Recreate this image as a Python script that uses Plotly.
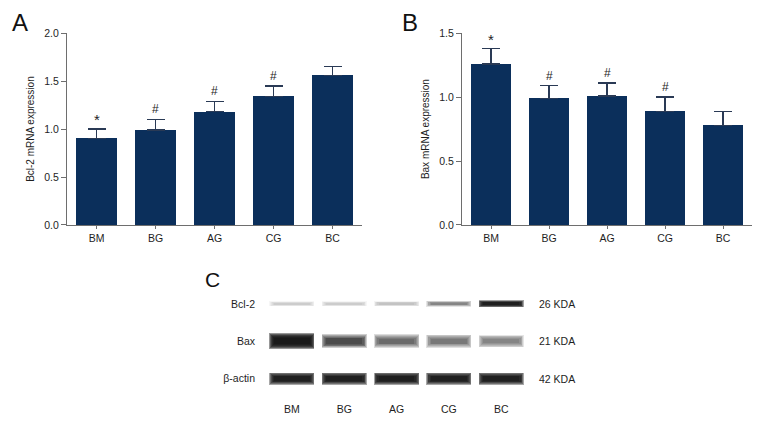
import plotly.graph_objects as go

# ---------------- data ----------------
groups = ["BM", "BG", "AG", "CG", "BC"]
bcl2_mrna = [0.90, 0.99, 1.18, 1.34, 1.56]
bcl2_err = [0.10, 0.11, 0.11, 0.11, 0.09]
bcl2_sig = ["*", "#", "#", "#", ""]

bax_mrna = [1.26, 0.99, 1.01, 0.89, 0.78]
bax_err = [0.12, 0.10, 0.10, 0.11, 0.11]
bax_sig = ["*", "#", "#", "#", ""]

proteins = ["Bcl-2", "Bax", "β-actin"]
kda_labels = ["26 KDA", "21 KDA", "42 KDA"]
# relative band intensities read from the blot (0 = no band, 1 = saturated)
bcl2_band = [0.22, 0.22, 0.26, 0.50, 0.95]
bax_band = [0.97, 0.75, 0.62, 0.58, 0.50]
actin_band = [0.94, 0.94, 0.95, 0.94, 0.94]

# ---------------- style ----------------
W, H = 780, 444
FONT = "Liberation Sans, Arial, sans-serif"
BAR = "#0b2f5b"
AXC = "#6e6e6e"
TXT = "#1e1e1e"


def px(x):
    return x / W


def py(y):
    return 1 - y / H


fig = go.Figure()

# Panel A
fig.add_trace(go.Bar(
    x=groups, y=bcl2_mrna, marker=dict(color=BAR, line=dict(width=0)),
    width=0.68, xaxis="x", yaxis="y",
    error_y=dict(type="data", array=bcl2_err, arrayminus=[0] * 5, symmetric=False,
                 color="#2a3a55", thickness=1.3, width=9),
    showlegend=False, hoverinfo="x+y"))

# Panel B
fig.add_trace(go.Bar(
    x=groups, y=bax_mrna, marker=dict(color=BAR, line=dict(width=0)),
    width=0.70, xaxis="x2", yaxis="y2",
    error_y=dict(type="data", array=bax_err, arrayminus=[0] * 5, symmetric=False,
                 color="#2a3a55", thickness=1.3, width=9),
    showlegend=False, hoverinfo="x+y"))

# Panel C: western blot bands drawn as soft layered bars
rows = [bcl2_band, bax_band, actin_band]
row_thick = [0.10, 0.22, 0.17]
tfs = [1.6, 1.4, 1.2, 1.0, 0.8, 0.6]
wds = [0.86, 0.84, 0.81, 0.78, 0.74, 0.68]
for r, vals in enumerate(rows):
    alphas = [1 - (1 - min(v, 0.97)) ** (1 / len(tfs)) for v in vals]
    for tf, wd in zip(tfs, wds):
        th = [row_thick[r] * tf * (0.7 + 0.5 * v) for v in vals]
        fig.add_trace(go.Bar(
            x=groups, y=th, base=[r - t / 2 for t in th], width=wd,
            marker=dict(color=[f"rgba(20,20,20,{a:.3f})" for a in alphas],
                        line=dict(width=0)),
            xaxis="x3", yaxis="y3", showlegend=False, hoverinfo="skip"))

tickfont = dict(family=FONT, size=10.5, color=TXT)


def bar_xaxis(domain, anchor):
    return dict(domain=domain, anchor=anchor, range=[-0.5, 4.5], type="category",
                showline=True, linecolor=AXC, linewidth=1, ticks="outside", ticklen=3,
                tickcolor=AXC, showgrid=False, zeroline=False, tickfont=tickfont)


def bar_yaxis(domain, anchor, rng, title):
    return dict(domain=domain, anchor=anchor, range=rng, dtick=0.5, tickformat=".1f",
                showline=True, linecolor=AXC, linewidth=1, ticks="outside", ticklen=5,
                tickcolor=AXC, showgrid=False, zeroline=False, tickfont=tickfont,
                title=dict(text=title, font=dict(family=FONT, size=10, color=TXT), standoff=7))


ydom = [py(225), py(28)]
annotations = []
for xr, yr, vs, es, ss in [("x", "y", bcl2_mrna, bcl2_err, bcl2_sig),
                           ("x2", "y2", bax_mrna, bax_err, bax_sig)]:
    for g, v, e, s in zip(groups, vs, es, ss):
        if s:
            annotations.append(dict(
                x=g, y=v + e, xref=xr, yref=yr, text=s, showarrow=False,
                yanchor="bottom", yshift=(-1 if s == "*" else 1),
                font=dict(family=FONT, size=(15 if s == "*" else 12), color=TXT)))
for r, k in enumerate(kda_labels):
    annotations.append(dict(x=px(537), y=r, xref="paper", yref="y3", text=k, showarrow=False,
                            xanchor="left", font=dict(family=FONT, size=10.5, color=TXT)))
for lab, (x, y, s) in zip(["A", "B", "C"], [(20, 17, 24), (410, 17, 24), (213, 281, 21)]):
    annotations.append(dict(x=px(x), y=py(y), xref="paper", yref="paper", text=lab,
                            showarrow=False, xanchor="center", yanchor="middle",
                            font=dict(family=FONT, size=s, color="#111")))

fig.update_layout(
    width=W, height=H, margin=dict(l=0, r=0, t=0, b=0),
    paper_bgcolor="white", plot_bgcolor="rgba(0,0,0,0)",
    barmode="overlay", bargap=0,
    font=dict(family=FONT, color=TXT),
    xaxis=bar_xaxis([px(67), px(362)], "y"),
    yaxis=bar_yaxis(ydom, "x", [0, 2.0], "Bcl-2 mRNA expression"),
    xaxis2=bar_xaxis([px(462), px(752)], "y2"),
    yaxis2=bar_yaxis(ydom, "x2", [0, 1.5], "Bax mRNA expression"),
    xaxis3=dict(domain=[px(260), px(530)], anchor="y3", type="category",
                range=[-0.61, 4.55], showline=False, showgrid=False, zeroline=False,
                ticks="", tickfont=tickfont, ticklabelstandoff=6),
    yaxis3=dict(domain=[py(400), py(290)], anchor="x3", range=[2.44, -0.42],
                tickvals=[0, 1, 2], ticktext=proteins, showline=False, showgrid=False,
                zeroline=False, ticks="", tickfont=tickfont, ticklabelstandoff=4),
    annotations=annotations,
)

fig.write_html(
    "out.html",
    config={"displayModeBar": False},
    post_script="document.body.style.margin='0';document.body.style.overflow='hidden';",
)
